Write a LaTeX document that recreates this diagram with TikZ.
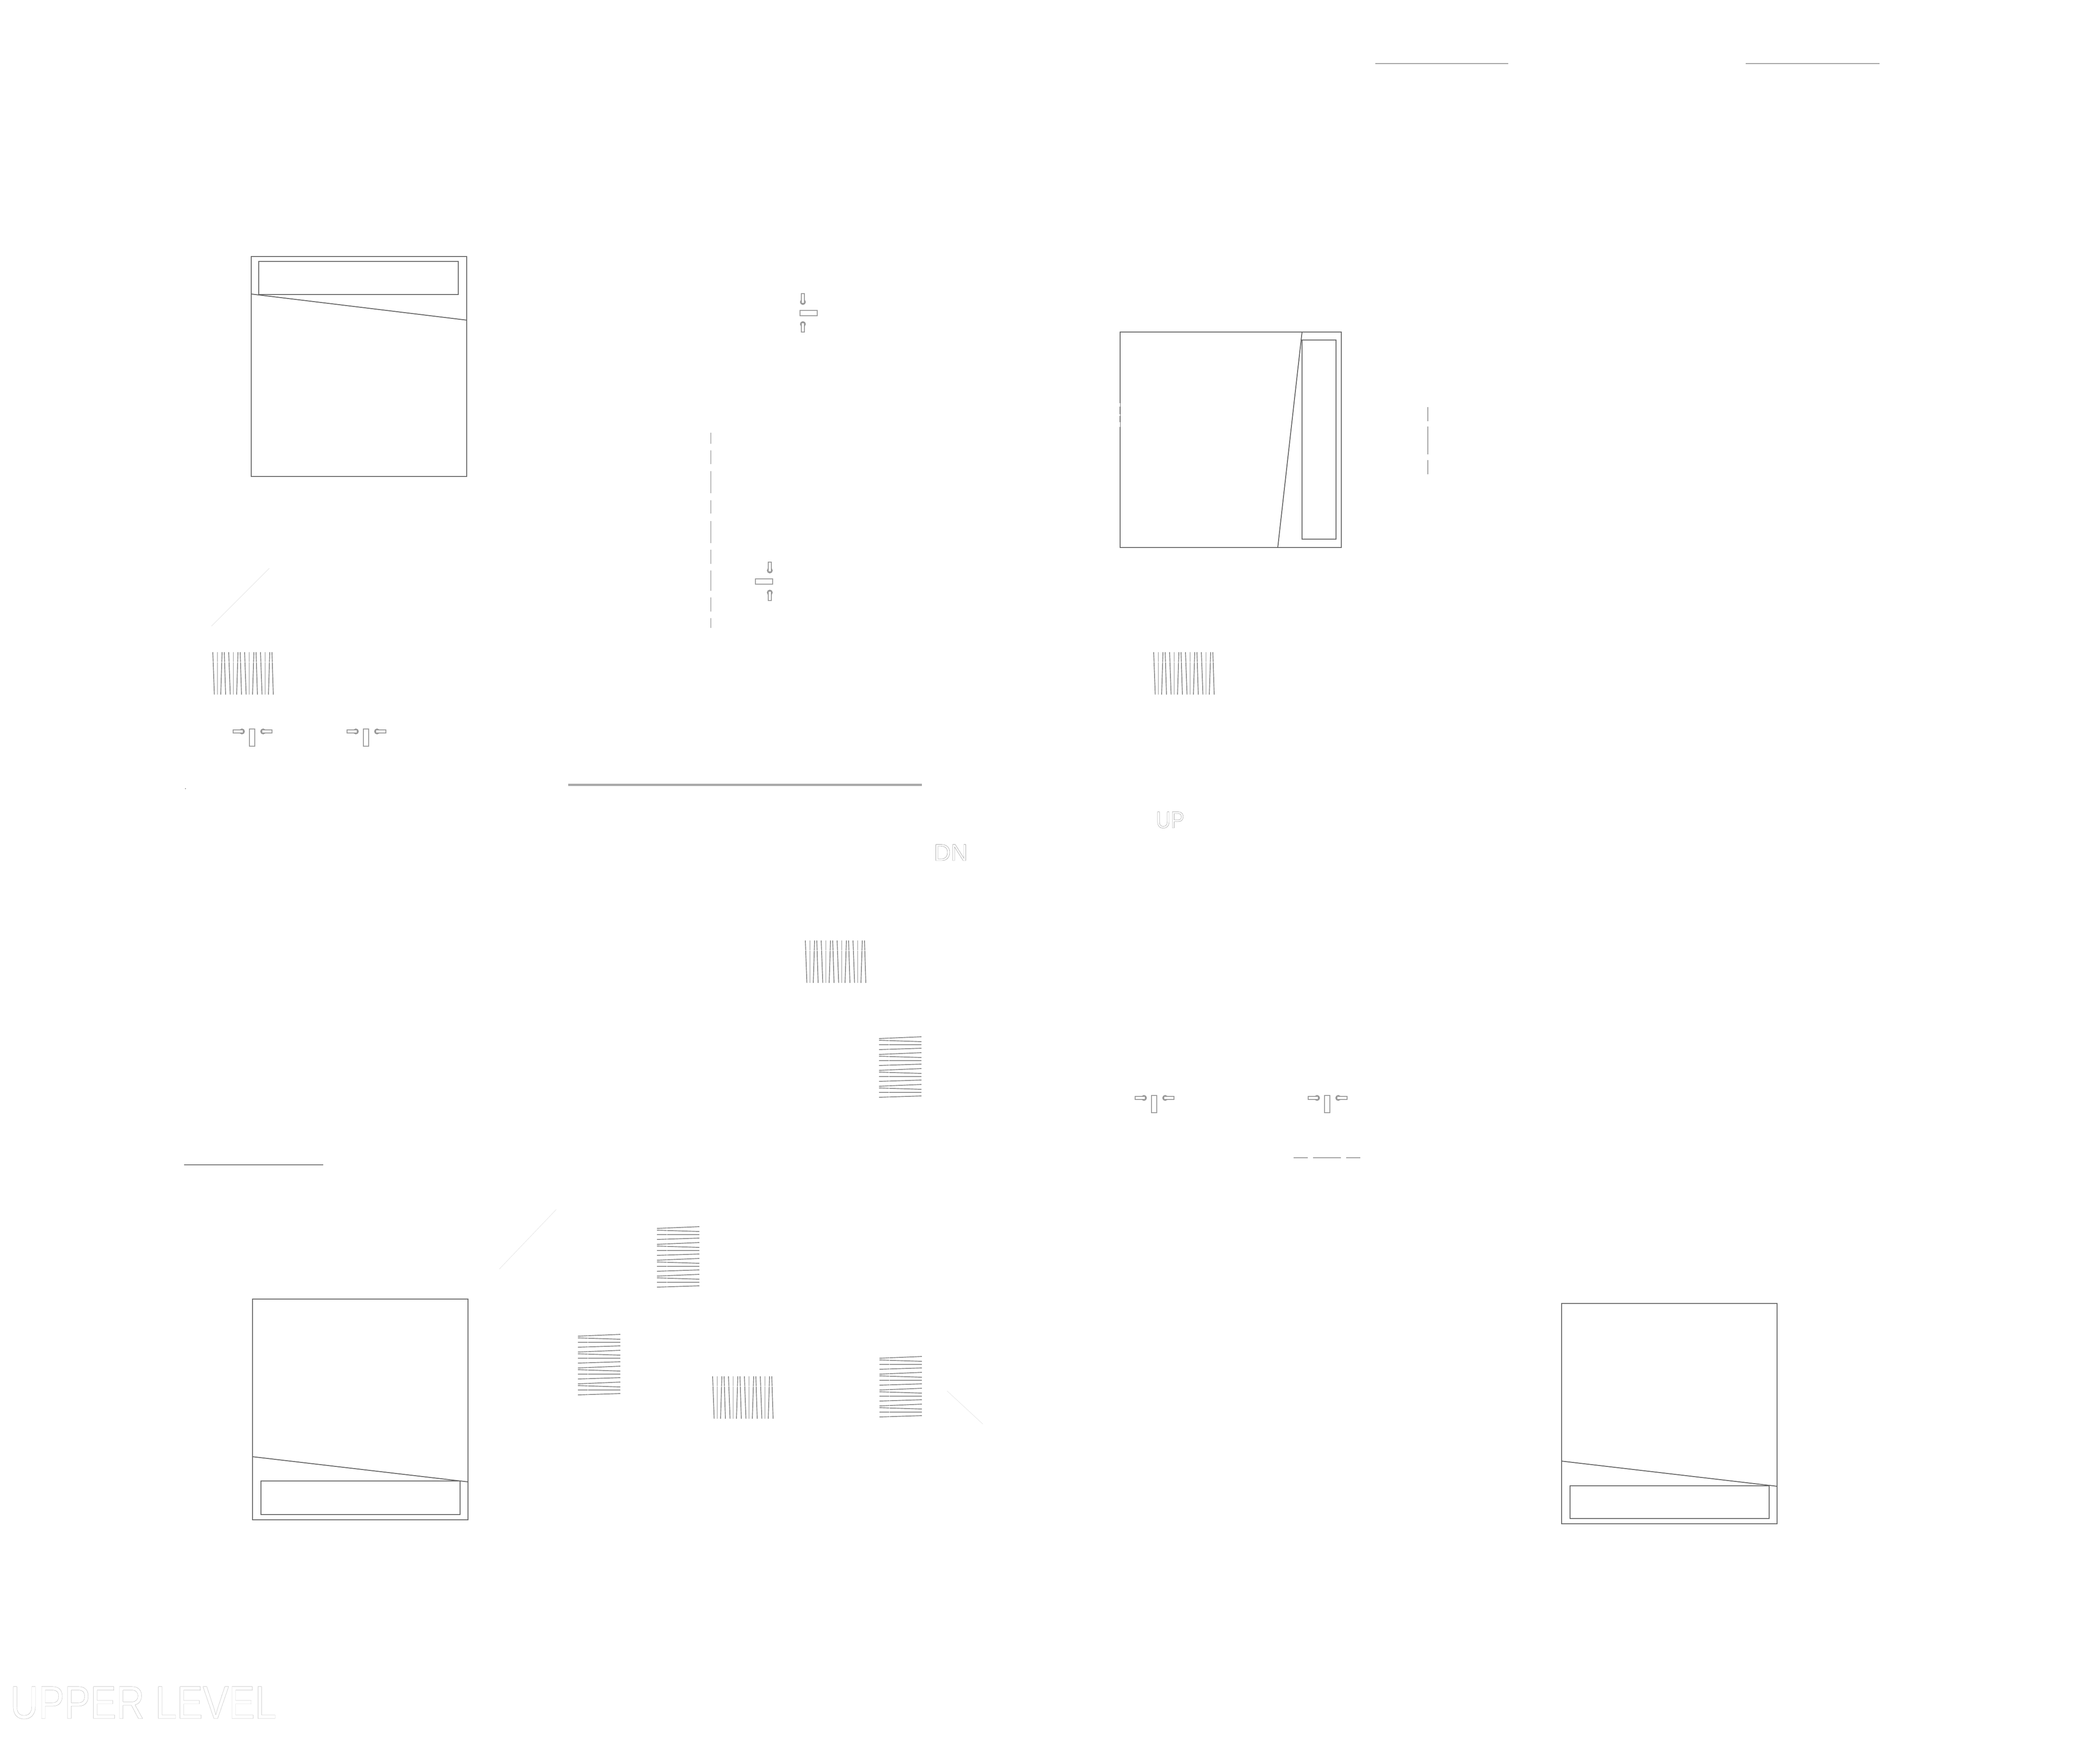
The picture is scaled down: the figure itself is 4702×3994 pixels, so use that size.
\documentclass[tikz,border=0pt]{standalone}
\usepackage{fontspec}
\usepackage{xcolor}
\newfontfamily\labelfont{Liberation Sans}
\newcommand{\hollowtext}[3]{\scalebox{#1}[1]{\special{pdf:code 1 Tr #2 w 0.45 G}#3}}
\definecolor{wallgray}{HTML}{666666}
\definecolor{fittinggray}{HTML}{999999}
\definecolor{faintgray}{HTML}{E2E2E2}
\tikzset{
	wall/.style={draw=wallgray, line width=2pt},
	fitting/.style={draw=fittinggray, line width=2pt},
	handle/.style={draw=fittinggray, line width=2pt, fill=white},
	knob/.style={draw=fittinggray, line width=3pt},
	rule/.style={draw=fittinggray, line width=1.5pt},
	faint/.style={draw=faintgray, line width=.8pt},
	treads/.style={draw=wallgray!75, line width=1.9pt, dash pattern=on 22pt off 1pt on 120pt},
	floorlabel/.style={inner sep=0pt, anchor=base west, font=\labelfont}
}
\begin{document}
\begin{tikzpicture}[x=1pt, y=-1pt]
	\useasboundingbox (0,0) rectangle (4702,3994);
	% rooms
	\draw[wall] (569,581) rectangle (1057,1079);
	\draw[wall] (586,592) rectangle (1038,667);
	\draw[wall] (570,666) -- (1057,725);
	\draw[wall] (2537,752) rectangle (3038,1240);
	\draw[wall] (2949,770) rectangle (3026,1221);
	\draw[wall] (2949,752) -- (2894,1240);
	\draw[white, line width=1pt] (2536.5,913) -- (2536.5,921) (2536.5,938) -- (2536.5,942) (2536.5,956) -- (2536.5,967);
	\draw[wall] (572,2942) rectangle (1060,3442);
	\draw[wall] (591,3354) rectangle (1042,3430);
	\draw[wall] (572,3299) -- (1060,3356);
	\draw[wall] (3537,2952) rectangle (4025,3451);
	\draw[wall] (3556,3365) rectangle (4007,3439);
	\draw[wall] (3537,3309) -- (4025,3366);
	% long rules
	\draw[rule, line width=5pt, draw=fittinggray!85] (1287,1777) -- (2088,1777);
	\draw[rule, draw=wallgray!90, line width=2.5pt] (417,2638) -- (732,2638);
	\draw[rule] (3115,144) -- (3416,144);
	\draw[rule] (3954,144) -- (4257,144);
	\draw[rule] (2930,2622) -- (2962,2622) (2974,2622) -- (3037,2622) (3049,2622) -- (3081,2622);
	% dashes
	\foreach \ya/\yb in {980/1005, 1020/1051, 1067/1117, 1133/1163, 1180/1230, 1245/1277, 1292/1338, 1353/1385, 1400/1422}
		\draw[rule, draw=fittinggray!75] (1610,\ya) -- (1610,\yb);
	\foreach \ya/\yb in {922/954, 966/1029, 1042/1074}
		\draw[rule] (3234,\ya) -- (3234,\yb);
	% faint diagonals
	\draw[faint] (479,1418) -- (610,1287);
	\draw[faint] (1131,2874) -- (1260,2739);
	\draw[faint] (2145,3150) -- (2226,3225);
	\fill[fittinggray] (419,1785) rectangle (421,1787);
	% door leaves with their handles
	\foreach \dx/\dy in {565/1651, 823/1651, 2608/2481, 3000/2481} {
		\draw[fitting] (\dx,\dy) rectangle ({\dx+12},{\dy+39});
		\draw[knob] ({\dx-17},{\dy+5.5}) circle (5);
		\draw[handle] ({\dx-37},{\dy+2}) rectangle ({\dx-14},{\dy+9});
		\draw[knob] ({\dx+31},{\dy+5.5}) circle (5);
		\draw[handle] ({\dx+28},{\dy+2}) rectangle ({\dx+51},{\dy+9});
	}
	\foreach \dx/\dy/\lx in {1812/703/1815, 1711/1311/1740} {
		\draw[fitting] (\dx,\dy) rectangle ({\dx+39},{\dy+12});
		\draw[knob] ({\lx+3.5},{\dy-19}) circle (5);
		\draw[handle] (\lx,{\dy-38}) rectangle ({\lx+7},{\dy-16});
		\draw[knob] ({\lx+3.5},{\dy+31}) circle (5);
		\draw[handle] (\lx,{\dy+28}) rectangle ({\lx+7},{\dy+49});
	}
	% stair treads
	\foreach \bx/\by in {482/1477, 2613/1477, 1824/2130, 1614/3117}
		\foreach \i in {0,36,72,108} {
			\draw[treads] ({\bx+\i},\by) -- ({\bx+\i+3.5},{\by+96});
			\draw[treads] ({\bx+\i+10.5},\by) -- ({\bx+\i+10.5},{\by+96});
			\draw[treads] ({\bx+\i+21},\by) -- ({\bx+\i+18},{\by+96});
			\draw[treads] ({\bx+\i+26},\by) -- ({\bx+\i+29},{\by+96});
		}
	\foreach \bx/\by in {1309/3022, 1991/2348, 1488/2778, 1992/3072}
		\foreach \i in {0,36,72,108} {
			\draw[treads] (\bx,{\by+\i+4}) -- ({\bx+96},{\by+\i});
			\draw[treads] (\bx,{\by+\i+8}) -- ({\bx+96},{\by+\i+11});
			\draw[treads] (\bx,{\by+\i+18}) -- ({\bx+96},{\by+\i+18});
			\draw[treads] (\bx,{\by+\i+29}) -- ({\bx+96},{\by+\i+26});
		}
	% labels
	\node (uplabel) [floorlabel, font=\labelfont\fontsize{53}{53}\selectfont] at (2618,1875) {\hollowtext{.87}{.4}{UP}};
	\node (dnlabel) [floorlabel, font=\labelfont\fontsize{53}{53}\selectfont] at (2115,1949) {\hollowtext{1}{.4}{DN}};
	\node (levellabel) [floorlabel, font=\labelfont\fontsize{105}{105}\selectfont] at (23,3892) {\hollowtext{.84}{.2}{UPPER LEVEL}};
\end{tikzpicture}
\end{document}
